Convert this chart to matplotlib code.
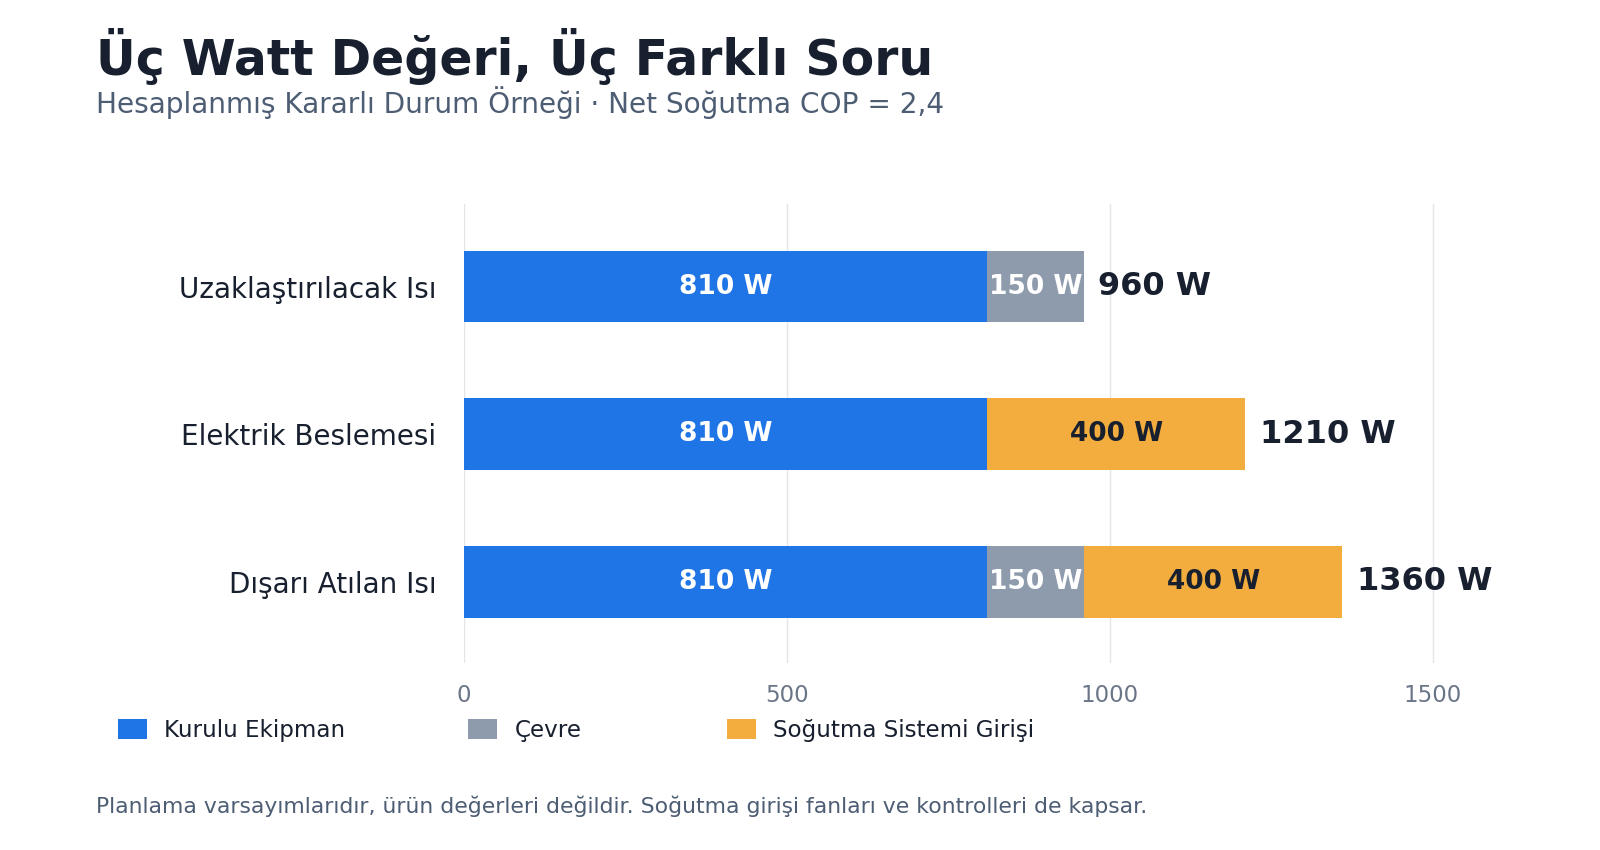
import matplotlib.pyplot as plt
from matplotlib.patches import Patch

plt.rcParams["font.family"] = ["DejaVu Sans"]

# Data
categories = ["Uzaklaştırılacak Isı", "Elektrik Beslemesi", "Dışarı Atılan Isı"]
series_names = ["Kurulu Ekipman", "Çevre", "Soğutma Sistemi Girişi"]
equipment = [810, 810, 810]
environment = [150, 0, 150]
cooling_input = [0, 400, 400]
totals = [960, 1210, 1360]
xticks = [0, 500, 1000, 1500]

colors = ["#1f75e6", "#8e9bad", "#f3ad3e"]
label_colors = ["white", "white", "#18202f"]
dark = "#18202f"

W, H = 1600, 850
fig = plt.figure(figsize=(16, 8.5), dpi=100)
ax = fig.add_axes([464 / W, 1 - 663 / H, (1518 - 464) / W, (663 - 204) / H])

y = list(range(len(categories)))
left = [0] * len(categories)
for vals, color, lc in zip([equipment, environment, cooling_input], colors, label_colors):
    bars = ax.barh(y, vals, left=left, height=0.485, color=color, zorder=2)
    for b, v in zip(bars, vals):
        if v > 0:
            ax.text(b.get_x() + b.get_width() / 2, b.get_y() + b.get_height() / 2,
                    f"{v} W", ha="center", va="center", color=lc,
                    fontsize=19, fontweight="bold", zorder=3)
    left = [l + v for l, v in zip(left, vals)]

for yi, t in zip(y, totals):
    ax.text(t + 22, yi, f"{t} W", ha="left", va="center", color=dark,
            fontsize=23, fontweight="bold")

ax.set_xlim(0, 1632)
ax.set_ylim(len(categories) - 0.45, -0.56)
ax.set_yticks(y)
ax.set_yticklabels(categories, fontsize=20, color=dark)
ax.set_xticks(xticks)
ax.set_xticklabels([str(x) for x in xticks], fontsize=16.5, color="#6b7588")
ax.tick_params(axis="both", length=0)
ax.tick_params(axis="y", pad=20)
ax.tick_params(axis="x", pad=15)
ax.grid(axis="x", color="#e2e5ea", linewidth=1, zorder=0)
for s in ax.spines.values():
    s.set_visible(False)

fig.text(96 / W, 1 - 75 / H, "Üç Watt Değeri, Üç Farklı Soru", fontsize=35.2,
         fontweight="bold", color=dark, ha="left", va="baseline")
fig.text(96 / W, 1 - 113 / H, "Hesaplanmış Kararlı Durum Örneği · Net Soğutma COP = 2,4",
         fontsize=20.2, color="#4d5d73", ha="left", va="baseline")

# legend entries sit at fixed x positions, one small legend each
# (fig.legend adds each one to the figure itself)
legend_x = [109, 459, 718]
for name, c, lx in zip(series_names, colors, legend_x):
    fig.legend([Patch(facecolor=c, edgecolor="none")], [name], loc="center left",
               bbox_to_anchor=(lx / W, 1 - 730 / H), frameon=False, fontsize=16.6,
               handlelength=1.25, handleheight=0.95, handletextpad=0.75,
               labelcolor=dark, borderaxespad=0)

fig.text(96 / W, 1 - 806 / H,
         "Planlama varsayımlarıdır, ürün değerleri değildir. Soğutma girişi fanları ve kontrolleri de kapsar.",
         fontsize=15.75, color="#4d5d73", ha="left", va="center")

fig.savefig("out.png", dpi=100, facecolor="white")
